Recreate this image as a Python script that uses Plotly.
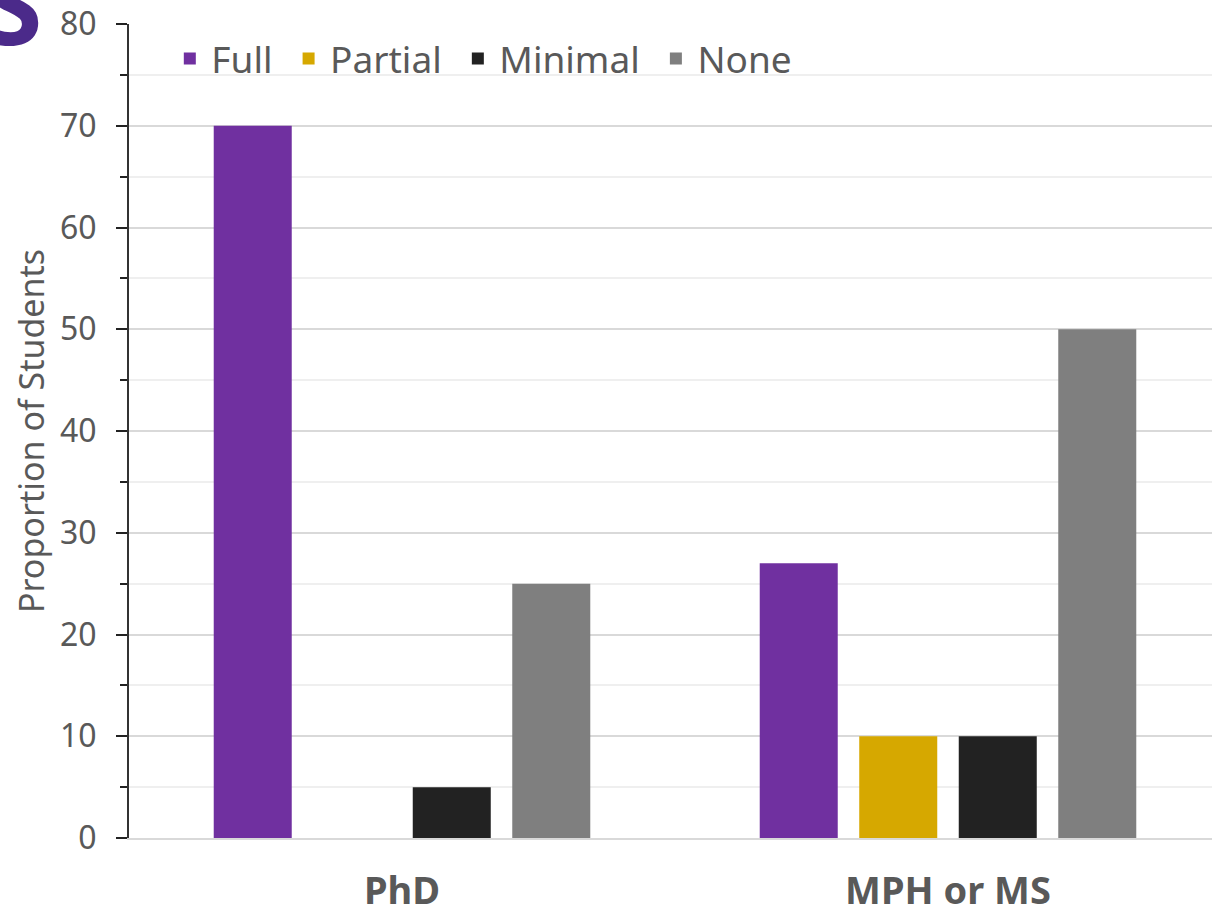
import plotly.graph_objects as go

categories = ["<b>PhD</b>", "<b>MPH or MS</b>"]
series_names = ["Full", "Partial", "Minimal", "None"]
full = [70, 27]
partial = [0, 10]
minimal = [5, 10]
none_ = [25, 50]
colors = ["#7030a0", "#d6a800", "#222222", "#7f7f7f"]

fig = go.Figure()
for name, vals, c in zip(series_names, [full, partial, minimal, none_], colors):
    fig.add_trace(go.Bar(name=name + "\u00a0", x=categories, y=vals,
                         marker=dict(color=c, line=dict(width=0))))

font_family = "Noto Sans"
fig.update_layout(
    width=1221, height=904,
    margin=dict(l=129, r=0, t=24, b=66),
    paper_bgcolor="white", plot_bgcolor="white",
    barmode="group", bargap=0.271, bargroupgap=0.216,
    font=dict(family=font_family, color="#595959", size=32),
    showlegend=True,
    legend=dict(orientation="h", x=0.036, y=0.995, xanchor="left", yanchor="top",
                font=dict(size=37, color="#595959"), bgcolor="rgba(0,0,0,0)",
                itemwidth=33, tracegroupgap=0),
)
fig.update_yaxes(
    range=[0, 80], dtick=10, tickmode="linear", automargin=False,
    showgrid=True, gridcolor="#d9d9d9", gridwidth=1.5,
    minor=dict(dtick=5, showgrid=True, gridcolor="#efefef", ticks="outside", ticklen=7, tickcolor="#222"),
    ticks="outside", ticklen=11, tickcolor="#222", tickwidth=2,
    showline=True, linecolor="#333", linewidth=2,
    tickfont=dict(size=32, color="#595959"),
    ticklabelstandoff=13,
    title=dict(text="Proportion of Students", font=dict(size=34, color="#595959"), standoff=5),
    zeroline=False,
)
fig.update_xaxes(
    showline=True, linecolor="#d9d9d9", linewidth=2, automargin=False,
    ticks="", tickfont=dict(size=38, color="#595959"),
    ticklabelstandoff=18,
)
fig.add_annotation(text="<b>S</b>", xref="paper", yref="paper",
                   x=(45 - 129) / 1092, y=(838 - 79) / 814, xanchor="right", yanchor="bottom",
                   showarrow=False, font=dict(size=110, color="#4b2a8a", family=font_family))

fig.write_html("out.html", config={"displayModeBar": False},
               post_script="document.body.style.margin='0px';document.body.style.padding='0px';document.body.style.overflow='hidden';document.documentElement.style.overflow='hidden';")
